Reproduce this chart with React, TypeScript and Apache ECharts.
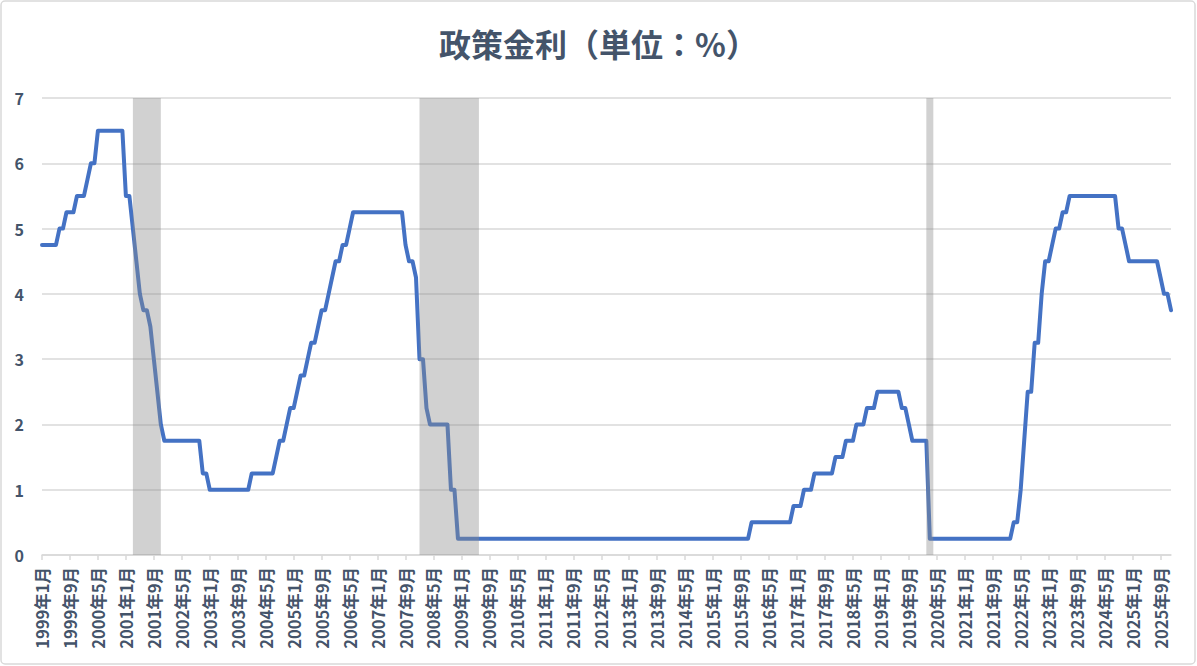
import React, { useEffect, useRef } from "react";
import * as echarts from "echarts";

// Policy rate (%), month-end values, Jan 1999 – Dec 2025
const y1999 = [4.75, 4.75, 4.75, 4.75, 4.75, 5.0, 5.0, 5.25, 5.25, 5.25, 5.5, 5.5];
const y2000 = [5.5, 5.75, 6.0, 6.0, 6.5, 6.5, 6.5, 6.5, 6.5, 6.5, 6.5, 6.5];
const y2001 = [5.5, 5.5, 5.0, 4.5, 4.0, 3.75, 3.75, 3.5, 3.0, 2.5, 2.0, 1.75];
const y2002 = [1.75, 1.75, 1.75, 1.75, 1.75, 1.75, 1.75, 1.75, 1.75, 1.75, 1.25, 1.25];
const y2003 = [1.0, 1.0, 1.0, 1.0, 1.0, 1.0, 1.0, 1.0, 1.0, 1.0, 1.0, 1.0];
const y2004 = [1.25, 1.25, 1.25, 1.25, 1.25, 1.25, 1.25, 1.5, 1.75, 1.75, 2.0, 2.25];
const y2005 = [2.25, 2.5, 2.75, 2.75, 3.0, 3.25, 3.25, 3.5, 3.75, 3.75, 4.0, 4.25];
const y2006 = [4.5, 4.5, 4.75, 4.75, 5.0, 5.25, 5.25, 5.25, 5.25, 5.25, 5.25, 5.25];
const y2007 = [5.25, 5.25, 5.25, 5.25, 5.25, 5.25, 5.25, 5.25, 4.75, 4.5, 4.5, 4.25];
const y2008 = [3.0, 3.0, 2.25, 2.0, 2.0, 2.0, 2.0, 2.0, 2.0, 1.0, 1.0, 0.25];
const y2009 = [0.25, 0.25, 0.25, 0.25, 0.25, 0.25, 0.25, 0.25, 0.25, 0.25, 0.25, 0.25];
const y2010 = [0.25, 0.25, 0.25, 0.25, 0.25, 0.25, 0.25, 0.25, 0.25, 0.25, 0.25, 0.25];
const y2011 = [0.25, 0.25, 0.25, 0.25, 0.25, 0.25, 0.25, 0.25, 0.25, 0.25, 0.25, 0.25];
const y2012 = [0.25, 0.25, 0.25, 0.25, 0.25, 0.25, 0.25, 0.25, 0.25, 0.25, 0.25, 0.25];
const y2013 = [0.25, 0.25, 0.25, 0.25, 0.25, 0.25, 0.25, 0.25, 0.25, 0.25, 0.25, 0.25];
const y2014 = [0.25, 0.25, 0.25, 0.25, 0.25, 0.25, 0.25, 0.25, 0.25, 0.25, 0.25, 0.25];
const y2015 = [0.25, 0.25, 0.25, 0.25, 0.25, 0.25, 0.25, 0.25, 0.25, 0.25, 0.25, 0.5];
const y2016 = [0.5, 0.5, 0.5, 0.5, 0.5, 0.5, 0.5, 0.5, 0.5, 0.5, 0.5, 0.75];
const y2017 = [0.75, 0.75, 1.0, 1.0, 1.0, 1.25, 1.25, 1.25, 1.25, 1.25, 1.25, 1.5];
const y2018 = [1.5, 1.5, 1.75, 1.75, 1.75, 2.0, 2.0, 2.0, 2.25, 2.25, 2.25, 2.5];
const y2019 = [2.5, 2.5, 2.5, 2.5, 2.5, 2.5, 2.25, 2.25, 2.0, 1.75, 1.75, 1.75];
const y2020 = [1.75, 1.75, 0.25, 0.25, 0.25, 0.25, 0.25, 0.25, 0.25, 0.25, 0.25, 0.25];
const y2021 = [0.25, 0.25, 0.25, 0.25, 0.25, 0.25, 0.25, 0.25, 0.25, 0.25, 0.25, 0.25];
const y2022 = [0.25, 0.25, 0.5, 0.5, 1.0, 1.75, 2.5, 2.5, 3.25, 3.25, 4.0, 4.5];
const y2023 = [4.5, 4.75, 5.0, 5.0, 5.25, 5.25, 5.5, 5.5, 5.5, 5.5, 5.5, 5.5];
const y2024 = [5.5, 5.5, 5.5, 5.5, 5.5, 5.5, 5.5, 5.5, 5.0, 5.0, 4.75, 4.5];
const y2025 = [4.5, 4.5, 4.5, 4.5, 4.5, 4.5, 4.5, 4.5, 4.25, 4.0, 4.0, 3.75];

const years = [
  1999, 2000, 2001, 2002, 2003, 2004, 2005, 2006, 2007, 2008, 2009, 2010, 2011, 2012,
  2013, 2014, 2015, 2016, 2017, 2018, 2019, 2020, 2021, 2022, 2023, 2024, 2025,
];
const yearlyRates = [
  y1999, y2000, y2001, y2002, y2003, y2004, y2005, y2006, y2007, y2008, y2009, y2010, y2011,
  y2012, y2013, y2014, y2015, y2016, y2017, y2018, y2019, y2020, y2021, y2022, y2023, y2024,
  y2025,
];

// Recession periods (shaded)
const recessions: [string, string][] = [
  ["2001年3月", "2001年11月"],
  ["2008年1月", "2009年6月"],
  ["2020年2月", "2020年4月"],
];

const categories: string[] = [];
years.forEach((y) => {
  for (let m = 1; m <= 12; m++) categories.push(`${y}年${m}月`);
});
const rates: number[] = ([] as number[]).concat(...yearlyRates);

const FONT = "'Noto Sans CJK JP', 'Noto Sans', sans-serif";
const TEXT = "#44546a";
const GRID = "#d9d9d9";

export default function App() {
  const ref = useRef<HTMLDivElement>(null);
  useEffect(() => {
    document.body.style.margin = "0";
    const chart = echarts.init(ref.current!, null, { renderer: "svg" });
    chart.setOption({
      animation: false,
      backgroundColor: "#ffffff",
      textStyle: { fontFamily: FONT },
      title: {
        text: "政策金利（単位：%）",
        left: "center",
        top: 22,
        textStyle: { fontSize: 32, fontWeight: "bold", color: TEXT, fontFamily: FONT },
      },
      grid: { left: 42, right: 26, top: 98, bottom: 111 },
      xAxis: {
        type: "category",
        data: categories,
        boundaryGap: false,
        axisLine: { lineStyle: { color: GRID, width: 1.5 } },
        axisTick: { show: true, interval: 7, length: 5, lineStyle: { color: GRID, width: 1.5 } },
        axisLabel: {
          interval: 7,
          rotate: 90,
          margin: 12,
          color: TEXT,
          fontSize: 16.5,
          fontWeight: "bold",
          fontFamily: FONT,
        },
        splitLine: { show: false },
      },
      yAxis: {
        type: "value",
        min: 0,
        max: 7,
        interval: 1,
        axisLine: { show: false },
        axisTick: { show: false },
        axisLabel: { color: TEXT, fontSize: 16, fontWeight: "bold", margin: 18, fontFamily: FONT },
        splitLine: { lineStyle: { color: GRID, width: 1.5 } },
      },
      series: [
        {
          type: "line",
          data: rates,
          showSymbol: false,
          symbol: "none",
          z: 2,
          lineStyle: { color: "#4472c4", width: 4, join: "round", cap: "round" },
          markArea: {
            silent: true,
            z: 10,
            itemStyle: { color: "rgba(140,140,140,0.4)", borderWidth: 0 },
            data: recessions.map(([s, e]) => [{ xAxis: s }, { xAxis: e }]),
          },
        },
      ],
      graphic: [
        {
          type: "rect",
          shape: { x: 1, y: 1, width: 1194, height: 663, r: 4 },
          style: { fill: "none", stroke: GRID, lineWidth: 1.5 },
          silent: true,
        },
      ],
    });
    return () => chart.dispose();
  }, []);
  return (
    <div
      ref={ref}
      style={{ position: "fixed", left: 0, top: 0, width: 1197, height: 666 }}
    />
  );
}
